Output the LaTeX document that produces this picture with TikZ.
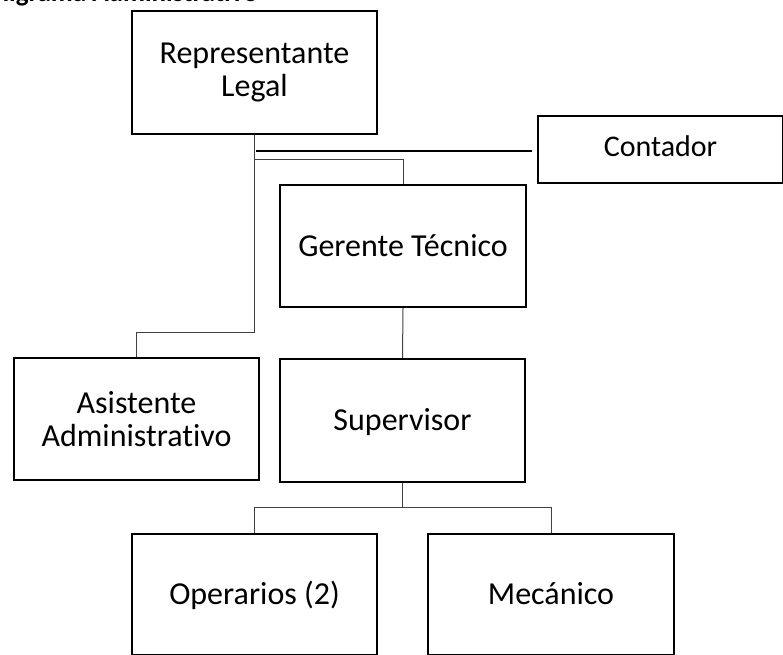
\documentclass[tikz,border=0pt]{standalone}
\usepackage{fontspec}
\setmainfont{Carlito}[Ligatures=NoCommon]
\usetikzlibrary{calc}
\begin{document}
\begin{tikzpicture}[x=1pt,y=-1pt,
  box/.style={draw=black,line width=2pt,anchor=north west,inner sep=0pt,
    align=center,font=\fontsize{32}{33.5}\selectfont},
  oneline/.style={text height=24pt,text depth=4pt},
  conn/.style={draw=black!75,line width=1pt},
  thickconn/.style={draw=black,line width=2.2pt}]
\useasboundingbox (0,0) rectangle (783,654);
\node[anchor=base east,inner sep=0pt,font=\fontsize{27}{30}\selectfont\bfseries] (title) at (258,1) {Organigrama Administrativo};
\node[box,minimum width=245,minimum height=123] (rep) at (131,10) {Representante\\Legal};
\node[box,text height=22pt,text depth=8pt,minimum width=245,minimum height=67,font=\fontsize{30}{33}\selectfont] (cont) at (537,115) {Contador};
\node[box,oneline,minimum width=246,minimum height=122] (ger) at (279,184) {Gerente Técnico};
\node[box,minimum width=245,minimum height=122] (asis) at (13,357) {Asistente\\Administrativo};
\node[box,oneline,minimum width=245,minimum height=123] (sup) at (279,358) {Supervisor};
\node[box,oneline,minimum width=245,minimum height=121] (op) at (131,533) {Operarios (2)};
\node[box,oneline,minimum width=246,minimum height=121] (mec) at (427,533) {Mecánico};
\coordinate (cstart) at (256,151);
\coordinate (cend) at (532,151);
\draw[conn] (rep.south) -- (rep.south |- 0,332) -| (asis.north);
\draw[conn] (rep.south |- 0,159) -| (ger.north);
\draw[thickconn] (cstart) -- (cend);
\draw[conn] (ger.south) -- (sup.north);
\draw[conn] (sup.south) -- (sup.south |- 0,507);
\draw[conn] (op.north) |- (mec.north |- 0,507) -- (mec.north);
\end{tikzpicture}
\end{document}
